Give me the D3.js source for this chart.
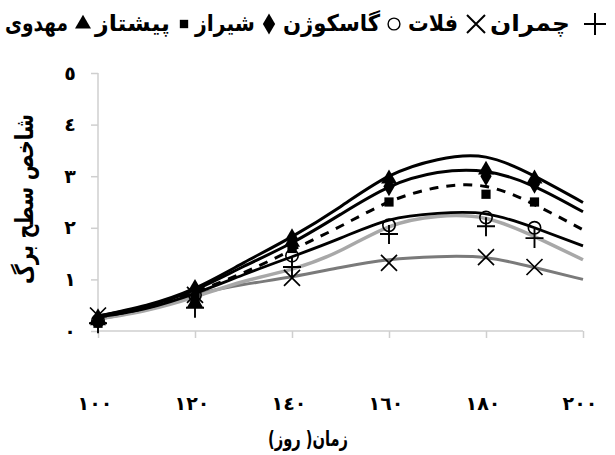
<!DOCTYPE html>
<html><head><meta charset="utf-8">
<script src="https://cdn.jsdelivr.net/npm/d3@7"></script>
<style>
body{margin:0;background:#fff;}
svg{display:block;}
text{font-family:"DejaVu Sans",sans-serif;fill:#000;}
</style></head>
<body><svg id="c" width="615" height="455"></svg>
<script>
// ---- data ----
const seriesNames = ["مهدوی","پیشتاز","شیراز","گاسکوژن","فلات","چمران"];
const obsDays = [100,120,140,160,180,190];
const mahdavi   = [0.20,0.55,1.72,2.95,3.12,2.95];
const pishtaz   = [0.15,0.65,1.60,2.50,2.65,2.50];
const shiraz    = [0.25,0.82,1.80,2.80,3.00,2.85];
const gaskozhen = [0.20,0.70,1.46,2.05,2.20,2.00];
const falat     = [0.30,0.70,1.03,1.32,1.43,1.24];
const chamran   = [0.15,0.45,1.24,1.88,2.03,1.80];

const fitDays = [100,110,120,130,140,150,160,170,180,190,200];
const fitMahdavi   = [0.29,0.50,0.83,1.32,1.83,2.41,3.00,3.32,3.37,3.00,2.49];
const fitShiraz    = [0.29,0.48,0.80,1.25,1.71,2.26,2.79,3.07,3.09,2.80,2.31];
const fitPishtaz   = [0.27,0.45,0.76,1.13,1.57,2.03,2.50,2.78,2.80,2.45,1.96];
const fitGaskozhen = [0.27,0.44,0.73,1.09,1.44,1.80,2.15,2.28,2.27,2.00,1.65];
const fitChamran   = [0.23,0.40,0.66,0.96,1.20,1.56,2.02,2.22,2.18,1.83,1.38];
const fitFalat     = [0.23,0.42,0.70,0.90,1.05,1.23,1.38,1.44,1.42,1.23,1.00];

const xTicks = [100,120,140,160,180,200];
const yTicks = [0,1,2,3,4,5];
const xTitle = "زمان( روز)";
const yTitle = "شاخص سطح برگ";

// ---- helpers ----
const arDigits = "٠١٢٣٤٥٦٧٨٩";
const toAr = s => String(s).replace(/[0-9]/g, d => arDigits[+d]);

const svg = d3.select("#c");
const x = d3.scaleLinear().domain([100,200]).range([98,583]);
const y = d3.scaleLinear().domain([0,5]).range([331,73]);

// axes
const axisCol = "#cfcfcf";
const gy = svg.append("g").attr("transform","translate(98,0)")
  .call(d3.axisLeft(y).tickValues(yTicks).tickSize(7).tickFormat(""));
const gx = svg.append("g").attr("transform","translate(0,331)")
  .call(d3.axisBottom(x).tickValues(xTicks).tickSize(7).tickFormat(""));
[gx,gy].forEach(g=>{
  g.select(".domain").attr("stroke",axisCol).attr("stroke-width",1.5);
  g.selectAll(".tick line").attr("stroke",axisCol).attr("stroke-width",1.5);
});
gy.select(".domain").attr("d","M0,73V331");
gx.select(".domain").attr("d","M98,0H583");

// tick labels
svg.append("g").selectAll("text").data(yTicks).join("text")
  .attr("x",70).attr("y",d=>y(d)).attr("dy","0.35em")
  .attr("text-anchor","middle").attr("font-size",19).attr("font-weight","bold")
  .text(d=>toAr(d));
svg.append("g").selectAll("text").data(xTicks).join("text")
  .attr("x",d=>x(d)-3).attr("y",403).attr("dy","0.35em")
  .attr("text-anchor","middle").attr("font-size",19).attr("font-weight","bold")
  .text(d=>toAr(d));

// titles
svg.append("text").attr("x",308).attr("y",439).attr("dy","0.35em")
  .attr("text-anchor","middle").attr("direction","rtl")
  .attr("font-size",21).attr("font-weight","bold")
  .attr("textLength",80).attr("lengthAdjust","spacingAndGlyphs").text(xTitle);
svg.append("text").attr("transform","translate(24,199) rotate(-90)")
  .attr("dy","0.35em").attr("text-anchor","middle").attr("direction","rtl")
  .attr("font-size",25).attr("font-weight","bold")
  .attr("textLength",170).attr("lengthAdjust","spacingAndGlyphs").text(yTitle);

// fitted curves
const line = d3.line().x((d,i)=>x(fitDays[i])).y(d=>y(d)).curve(d3.curveNatural);
const fits = [
  {v:fitFalat,     c:"#7a7a7a", w:3,   dash:null},
  {v:fitChamran,   c:"#a8a8a8", w:3.5, dash:null},
  {v:fitGaskozhen, c:"#000",    w:2.8, dash:null},
  {v:fitPishtaz,   c:"#000",    w:3,   dash:"9,8"},
  {v:fitShiraz,    c:"#000",    w:3,   dash:null},
  {v:fitMahdavi,   c:"#000",    w:3,   dash:null}
];
svg.append("g").selectAll("path").data(fits).join("path")
  .attr("d",d=>line(d.v)).attr("fill","none")
  .attr("stroke",d=>d.c).attr("stroke-width",d=>d.w)
  .attr("stroke-dasharray",d=>d.dash);

// markers
const sym = {
  tri: d3.symbol().type(d3.symbolTriangle).size(110)(),
  sq:  d3.symbol().type(d3.symbolSquare).size(85)(),
  dia: d3.symbol().type(d3.symbolDiamond).size(110)(),
  cir: d3.symbol().type(d3.symbolCircle).size(120)(),
  x:   "M-8,-8L8,8M-8,8L8,-8",
  plus:"M-9,0H9M0,-9V10"
};
const markerSets = [
  {v:falat,     p:sym.x,   fill:"none", stroke:"#000", sw:1.7},
  {v:chamran,   p:sym.plus,fill:"none", stroke:"#000", sw:1.9},
  {v:gaskozhen, p:sym.cir, fill:"none", stroke:"#000", sw:1.6},
  {v:pishtaz,   p:sym.sq,  fill:"#000", stroke:"none", sw:0},
  {v:shiraz,    p:sym.dia, fill:"#000", stroke:"none", sw:0},
  {v:mahdavi,   p:sym.tri, fill:"#000", stroke:"none", sw:0}
];
markerSets.forEach(s=>{
  svg.append("g").selectAll("path").data(s.v).join("path")
    .attr("transform",(d,i)=>`translate(${x(obsDays[i])},${y(d)})`)
    .attr("d",s.p).attr("fill",s.fill).attr("stroke",s.stroke).attr("stroke-width",s.sw);
});

// legend (right to left)
const legSym = [
  d3.symbol().type(d3.symbolTriangle).size(110)(),
  d3.symbol().type(d3.symbolSquare).size(70)(),
  d3.symbol().type(d3.symbolDiamond).size(130)(),
  d3.symbol().type(d3.symbolCircle).size(110)(),
  "M-9,-9L9,9M-9,9L9,-9",
  "M-11,0H11M0,-11V11"
];
const legFill = ["#000","#000","#000","none","none","none"];
const legSymX = [83,184,269,394,476,595];
const legTextL = [5,95,195,283,408,490];
const legTextW = [63,75,60,97,50,80];
const lg = svg.append("g");
seriesNames.forEach((n,i)=>{
  lg.append("text").attr("x",legTextL[i]+legTextW[i]/2).attr("y",23).attr("dy","0.35em")
    .attr("text-anchor","middle").attr("direction","rtl")
    .attr("font-size",23).attr("font-weight","bold")
    .attr("textLength",legTextW[i]).attr("lengthAdjust","spacingAndGlyphs").text(n);
  lg.append("path").attr("transform",`translate(${legSymX[i]},24)`)
    .attr("d",legSym[i]).attr("fill",legFill[i]).attr("stroke",i>=3?"#000":"none")
    .attr("stroke-width",i===3?1.4:2);
});
</script></body></html>
